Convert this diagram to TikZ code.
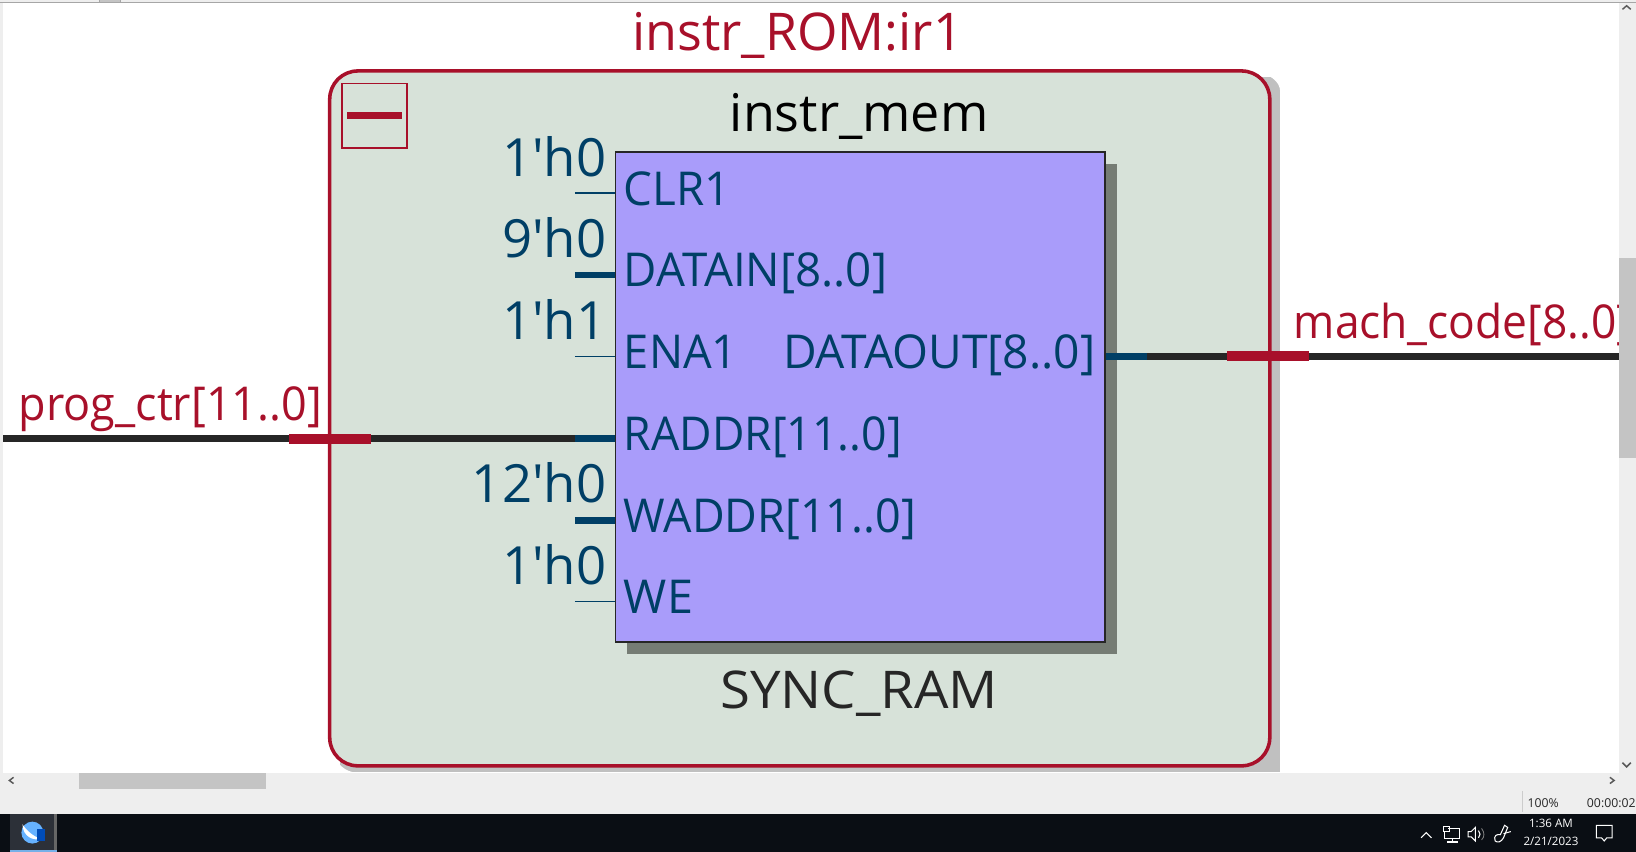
\documentclass[tikz,border=0pt]{standalone}
\usepackage{fontspec}
\setmainfont{Open Sans}
\newfontfamily\uf{Open Sans}
\definecolor{grp}{HTML}{D7E2D9}
\definecolor{rd}{HTML}{A8102A}
\definecolor{inst}{HTML}{A99CFA}
\definecolor{bl}{HTML}{003F66}
\definecolor{blk}{HTML}{262626}
\definecolor{shA}{HTML}{C0C0C0}
\definecolor{shB}{HTML}{757C74}
\definecolor{chrome}{HTML}{EEEEEE}
\definecolor{thumb}{HTML}{C4C4C4}
\definecolor{task}{HTML}{0A0E14}
\definecolor{taskbtn}{HTML}{2C3038}
\definecolor{taskln}{HTML}{76B0E8}
\newlength{\pxu}\setlength{\pxu}{0.78255pt}
\newcommand{\st}[1]{\addfontfeature{FakeStretch=#1}}
\tikzset{
  x=\pxu,y=-\pxu,
  txt/.style={inner sep=0pt,outer sep=0pt},
  portlbl/.style={txt,anchor=base west,text=bl,font=\uf\fontsize{35}{35}\selectfont},
  constlbl/.style={txt,anchor=base east,text=bl,font=\uf\fontsize{39.5}{39}\selectfont},
  netlbl/.style={txt,text=rd,font=\uf\fontsize{35}{35}\selectfont},
  thinw/.style={draw=bl,line width=1.5\pxu},
  thickw/.style={draw=bl,line width=6.5\pxu},
  wire/.style={draw=blk,line width=7\pxu},
  redw/.style={draw=rd,line width=9.5\pxu},
  statustxt/.style={txt,text=blk,font=\uf\fontsize{9.2}{10}\selectfont},
  tray/.style={draw=white,line width=1\pxu},
  traytxt/.style={txt,text=white,font=\uf\fontsize{8.7}{10}\selectfont},
}
\begin{document}
\begin{tikzpicture}
\useasboundingbox (0,0) rectangle (1568,816.55);
\fill[white] (0,0) rectangle (1568,816.55);
% window chrome
\fill[chrome] (0,0) rectangle (3,741);
\fill[chrome] (0,0) rectangle (1568,1.5);
\draw[gray!70,line width=1.2\pxu] (0,2.2) -- (1568,2.2);
\fill[thumb] (95,0) rectangle (115,2);
\draw[gray!70,line width=.8\pxu] (95,0) -- (95,2) (115,0) -- (115,2);
% block shadow and group
\fill[shA] (326,74) rectangle (1227,740);
\fill[white] (1199,68) -- (1227,68) -- (1227,88) .. controls (1227,78) and (1217,70) .. (1199,68) -- cycle;
\fill[white] (316,712) -- (316,740) -- (338,740) .. controls (328,738) and (318,728) .. (316,712) -- cycle;
\node[draw=rd,fill=grp,line width=3.4\pxu,rounded corners=27\pxu,minimum width=901\pxu,minimum height=666\pxu,inner sep=0pt] (grpbox) at (766.5,401) {};
\node[txt,text=rd,font=\uf\fontsize{39}{39}\selectfont,anchor=base] (grptitle) at (764.5,48) {instr\_ROM:ir1};
\node[draw=rd,line width=1.5\pxu,minimum width=62\pxu,minimum height=62\pxu,inner sep=0pt] (collapse) at (359,111) {};
\fill[rd] (333,107.5) rectangle (385,114);
% instance
\fill[shB] (601,157) rectangle (1071,627);
\node[draw=blk,fill=inst,line width=1.6\pxu,minimum width=469\pxu,minimum height=469\pxu,inner sep=0pt] (mem) at (824.5,380.5) {};
\node[txt,text=black,font=\uf\fontsize{39}{39}\selectfont,anchor=base] (memname) at (823.5,126.5) {instr\_mem};
\node[txt,text=blk,font=\uf\fontsize{39}{39}\selectfont,anchor=base] (memtype) at (823.5,679) {\st{1.048}SYNC\_RAM};
% port labels
\node[portlbl] (pclr) at (598,197) {\st{.98}CLR1};
\node[portlbl] (pdat) at (598,275) {\st{.98}DATAIN[8..0]};
\node[portlbl] (pena) at (598,353) {\st{.97}ENA1};
\node[portlbl] (prad) at (598,432) {\st{.955}RADDR[11..0]};
\node[portlbl] (pwad) at (598,510) {\st{.962}WADDR[11..0]};
\node[portlbl] (pwe) at (598,588) {WE};
\node[portlbl,anchor=base east] (pout) at (1050,353) {\st{.99}DATAOUT[8..0]};
% constants
\node[constlbl] (cclr) at (581,169) {1'h0};
\node[constlbl] (cdat) at (581,247) {9'h0};
\node[constlbl] (cena) at (581,325) {1'h1};
\node[constlbl] (cwad) at (581,482) {12'h0};
\node[constlbl] (cwe) at (581,560) {1'h0};
% port coordinates
\coordinate (sclr) at (551,185); \coordinate (eclr) at (mem.west |- sclr);
\coordinate (sdat) at (551,263.5);   \coordinate (edat) at (mem.west |- sdat);
\coordinate (sena) at (551,341.5);   \coordinate (eena) at (mem.west |- sena);
\coordinate (srad) at (551,420.5);   \coordinate (erad) at (mem.west |- srad);
\coordinate (swad) at (551,498.5);   \coordinate (ewad) at (mem.west |- swad);
\coordinate (swe) at (551,576.5);    \coordinate (ewe) at (mem.west |- swe);
\coordinate (inl) at (3,420.5);
\coordinate (rl1) at (277,420.5); \coordinate (rl2) at (356,420.5);
\coordinate (oute) at (mem.east |- sena);
\coordinate (oub) at (1099,341.5);
\coordinate (rr1) at (1176,341.5); \coordinate (rr2) at (1255,341.5);
\coordinate (outr) at (1552,341.5);
\draw[wire] (inl) -- (srad);
\draw[thickw] (srad) -- (erad);
\draw[redw] (rl1) -- (rl2);
\draw[thinw] (sclr) -- (eclr);
\draw[thickw] (sdat) -- (edat);
\draw[thinw] (sena) -- (eena);
\draw[thickw] (swad) -- (ewad);
\draw[thinw] (swe) -- (ewe);
\draw[wire] (oub) -- (outr);
\draw[thickw] (oute) -- (oub);
\draw[redw] (rr1) -- (rr2);
\node[netlbl,anchor=base west] (nprog) at (18,403) {\st{.963}prog\_ctr[11..0]};
\node[netlbl,anchor=base west] (nmach) at (1240,324.5) {\st{.95}mach\_code[8..0]};
% scrollbars and status
\fill[chrome] (1552,3) rectangle (1568,741);
\fill[thumb] (1552,247) rectangle (1568,439);
\draw[black!65,line width=1.4\pxu] (1555,9) -- (1559,5.5) -- (1563,9);
\draw[black!65,line width=1.4\pxu] (1555,731) -- (1559,735) -- (1563,731);
\fill[chrome] (0,741) rectangle (1568,780);
\fill[thumb] (76,741) rectangle (255,756);
\draw[black!65,line width=1.4\pxu] (13,745) -- (9,748) -- (13,751);
\draw[black!65,line width=1.4\pxu] (1543,745) -- (1547,748) -- (1543,751);
\draw[gray!40,line width=.8\pxu] (1459,758) -- (1459,778);
\node[statustxt,anchor=west] (zoomv) at (1464,770) {100\%};
\node[statustxt,anchor=west] (timer) at (1521,770) {00:00:02};
% taskbar
\fill[task] (0,780) rectangle (1568,816.55);
\fill[taskbtn] (10,780) rectangle (55,816.55);
\fill[black!60!white] (52,780) rectangle (55,815);
\fill[taskln] (10,815) rectangle (55,816.55);
\fill[blue!50!cyan!60!white] (31,798) circle (10.5);
\fill[white] (21.5,790) .. controls (26,797) and (33,802) .. (39,804) .. controls (32,806) and (22,802) .. (21.5,790) -- cycle;
\fill[blue!60!black!70!cyan] (35,795) rectangle (43,806);
\draw[tray] (1362,803) -- (1367,798) -- (1372,803);
\draw[tray] (1388,794) -- (1399,794) -- (1399,804) -- (1384,804) -- (1384,797) (1392,804) -- (1392,807) (1387,807) -- (1397,807);
\draw[tray] (1383.5,792) rectangle (1389,797);
\draw[tray] (1407,797) -- (1410,797) -- (1414,793) -- (1414,806) -- (1410,802) -- (1407,802) -- cycle;
\draw[tray] (1417,796) .. controls (1419,798) and (1419,801) .. (1417,803);
\draw[gray,line width=.8\pxu] (1420,794) .. controls (1423,798) and (1423,802) .. (1420,805);
\draw[tray] (1433,806) .. controls (1431,801) and (1435,799) .. (1438,800) -- (1442,791) -- (1445,793) -- (1441,803) .. controls (1439,807) and (1435,808) .. (1433,806) -- cycle;
\draw[tray] (1441,799) -- (1448,797);
\node[traytxt,anchor=center] (clock) at (1486.5,789.5) {1:36 AM};
\node[traytxt,anchor=center] (datev) at (1486.5,806.5) {2/21/2023};
\draw[tray] (1530,791) -- (1545,791) -- (1545,803) -- (1540,803) -- (1537.5,806) -- (1535,803) -- (1530,803) -- cycle;
\end{tikzpicture}
\end{document}
